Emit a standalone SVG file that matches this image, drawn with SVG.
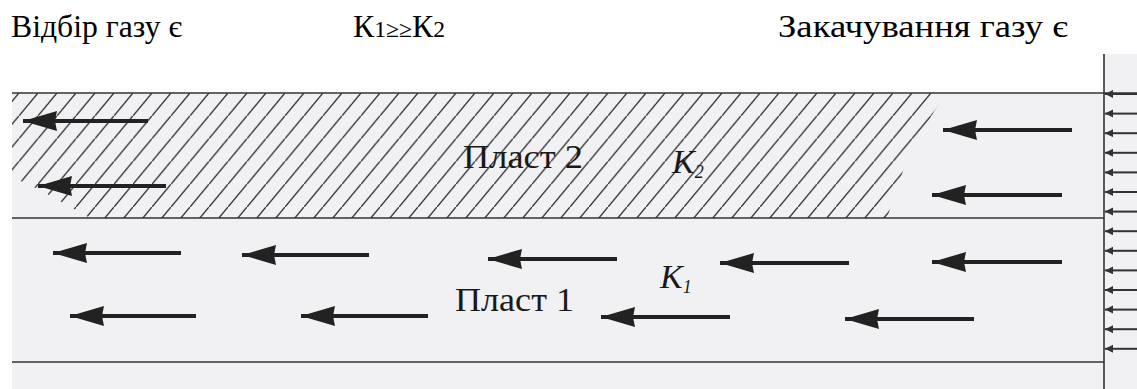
<svg xmlns="http://www.w3.org/2000/svg" width="1137" height="389" viewBox="0 0 1137 389">
<style>
.lbl{font-family:"Liberation Serif","Times New Roman",serif;fill:#000;}
.in{font-family:"Liberation Serif","Times New Roman",serif;fill:#1a1a1a;}
.bnd{stroke:#333;stroke-width:1.6;fill:none;}
.arr{stroke:#222;stroke-width:4;marker-end:url(#head);}
.sarr{stroke:#333;stroke-width:2;marker-end:url(#shead);}
</style>
<defs>
<marker id="head" markerUnits="userSpaceOnUse" markerWidth="36" markerHeight="22" refX="34" refY="10" orient="auto" viewBox="0 0 36 22">
<path d="M0,0 L34,10 L0,20 L2,10 z" fill="#222"/>
</marker>
<marker id="shead" markerUnits="userSpaceOnUse" markerWidth="10" markerHeight="10" refX="8" refY="4" orient="auto" viewBox="0 0 10 10">
<path d="M0,0 L8,4 L0,8 z" fill="#333"/>
</marker>
<pattern id="hatch" patternUnits="userSpaceOnUse" x="0" y="93" width="19" height="22.8">
<line x1="-1" y1="24" x2="20" y2="-1.2" stroke="#333" stroke-width="1.4"/>
</pattern>
</defs>
<rect width="1137" height="389" fill="#fff"/>
<g id="background">
<rect x="12" y="93" width="1125" height="296" fill="#f1f1f3"/>
<rect x="1104" y="54" width="33" height="39" fill="#f1f1f3"/>
</g>
<g id="layer2">
<polygon points="12,93 947,93 935,110 920,135 905,165 895,195 887,218 90,218 40,190 12,177" fill="url(#hatch)"/>
<text class="in" x="463" y="168" font-size="34" textLength="120" lengthAdjust="spacingAndGlyphs">Пласт 2</text>
<text class="in" x="672" y="173" font-size="34" font-style="italic">K<tspan font-size="18" dy="5">2</tspan></text>
</g>
<g id="layer1">
<text class="in" x="455" y="311" font-size="34" textLength="119" lengthAdjust="spacingAndGlyphs">Пласт 1</text>
<text class="in" x="660" y="288" font-size="34" font-style="italic">K<tspan font-size="18" dy="5">1</tspan></text>
</g>
<g id="boundaries">
<line class="bnd" x1="12" y1="93" x2="1137" y2="93"/>
<line class="bnd" x1="12" y1="218" x2="1104" y2="218"/>
<line class="bnd" x1="12" y1="362" x2="1104" y2="362"/>
<line class="bnd" x1="1104" y1="54" x2="1104" y2="389"/>
</g>
<g id="labels">
<text class="lbl" x="11" y="37" font-size="31" textLength="171" lengthAdjust="spacingAndGlyphs">Відбір газу є</text>
<text class="lbl" x="353" y="37" font-size="31" textLength="92" lengthAdjust="spacingAndGlyphs">К<tspan font-size="23">1≥≥</tspan>К<tspan font-size="23">2</tspan></text>
<text class="lbl" x="778" y="37" font-size="31" textLength="290" lengthAdjust="spacingAndGlyphs">Закачування газу є</text>
</g>
<g id="connectors">
<line class="arr" x1="148" y1="121" x2="23" y2="121"/>
<line class="arr" x1="166" y1="186" x2="38" y2="186"/>
<line class="arr" x1="1072" y1="130" x2="943" y2="130"/>
<line class="arr" x1="1062" y1="195" x2="932" y2="195"/>
<line class="arr" x1="181" y1="253" x2="53" y2="253"/>
<line class="arr" x1="369" y1="255" x2="242" y2="255"/>
<line class="arr" x1="617" y1="259" x2="488" y2="259"/>
<line class="arr" x1="849" y1="263" x2="720" y2="263"/>
<line class="arr" x1="1062" y1="262" x2="932" y2="262"/>
<line class="arr" x1="196" y1="316" x2="70" y2="316"/>
<line class="arr" x1="428" y1="316" x2="301" y2="316"/>
<line class="arr" x1="730" y1="317" x2="601" y2="317"/>
<line class="arr" x1="974" y1="319" x2="845" y2="319"/>
<line class="sarr" x1="1137" y1="94" x2="1105" y2="94"/>
<line class="sarr" x1="1137" y1="113.6" x2="1105" y2="113.6"/>
<line class="sarr" x1="1137" y1="133.2" x2="1105" y2="133.2"/>
<line class="sarr" x1="1137" y1="152.8" x2="1105" y2="152.8"/>
<line class="sarr" x1="1137" y1="172.4" x2="1105" y2="172.4"/>
<line class="sarr" x1="1137" y1="192" x2="1105" y2="192"/>
<line class="sarr" x1="1137" y1="211.6" x2="1105" y2="211.6"/>
<line class="sarr" x1="1137" y1="231.2" x2="1105" y2="231.2"/>
<line class="sarr" x1="1137" y1="250.8" x2="1105" y2="250.8"/>
<line class="sarr" x1="1137" y1="270.4" x2="1105" y2="270.4"/>
<line class="sarr" x1="1137" y1="290" x2="1105" y2="290"/>
<line class="sarr" x1="1137" y1="309.6" x2="1105" y2="309.6"/>
<line class="sarr" x1="1137" y1="329.2" x2="1105" y2="329.2"/>
<line class="sarr" x1="1137" y1="348.8" x2="1105" y2="348.8"/>
</g>
</svg>
